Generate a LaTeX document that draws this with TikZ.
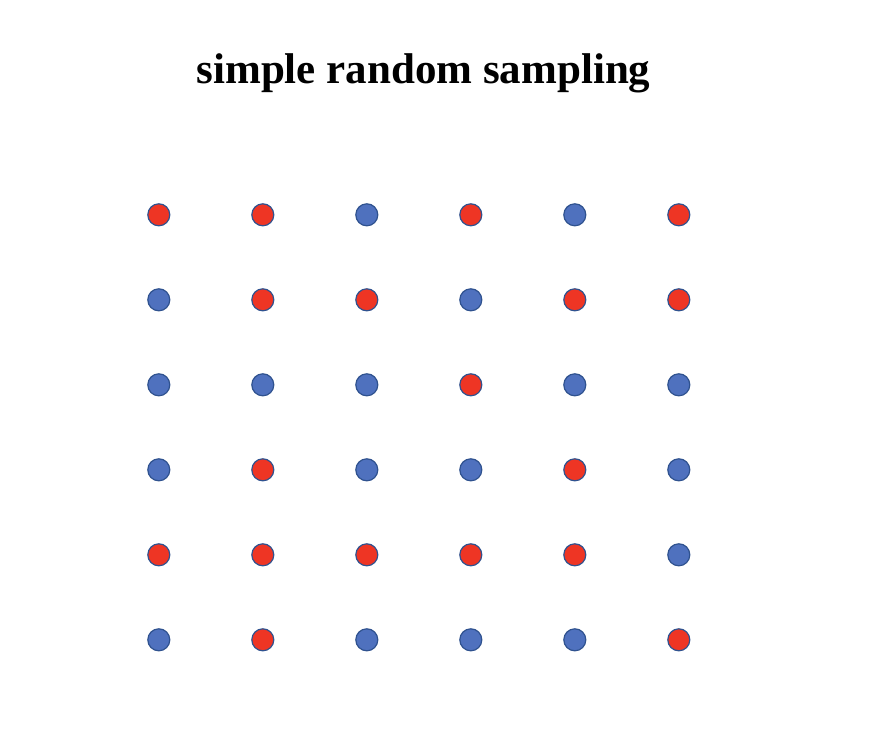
\documentclass[tikz,border=0pt]{standalone}
\usepackage{fontspec}
\setmainfont{Liberation Serif}
\definecolor{dotred}{HTML}{EE3524}
\definecolor{dotblue}{HTML}{4F71BE}
\definecolor{dotedge}{HTML}{2F528F}
\begin{document}
\begin{tikzpicture}[x=1pt,y=-1pt,
  dot/.style={circle,draw=dotedge,line width=1.2pt,minimum size=22pt,inner sep=0pt},
  sel/.style={dot,fill=dotred},
  uns/.style={dot,fill=dotblue},
  titletext/.style={font=\fontsize{43}{50}\selectfont\bfseries,inner sep=0pt,anchor=base}]
\useasboundingbox (0,0) rectangle (896,750);
\node[titletext] (title) at (423.5,83.5) {simple random sampling};
\foreach \r/\pat in {1/{1,1,0,1,0,1},2/{0,1,1,0,1,1},3/{0,0,0,1,0,0},4/{0,1,0,0,1,0},5/{1,1,1,1,1,0},6/{0,1,0,0,0,1}}{
  \foreach \v [count=\c] in \pat {
    \pgfmathsetmacro{\xx}{158.8+104*(\c-1)}
    \pgfmathsetmacro{\yy}{214.8+85*(\r-1)}
    \ifnum\v=1
      \node[sel] (d\r\c) at (\xx,\yy) {};
    \else
      \node[uns] (d\r\c) at (\xx,\yy) {};
    \fi
  }
}
\end{tikzpicture}
\end{document}
